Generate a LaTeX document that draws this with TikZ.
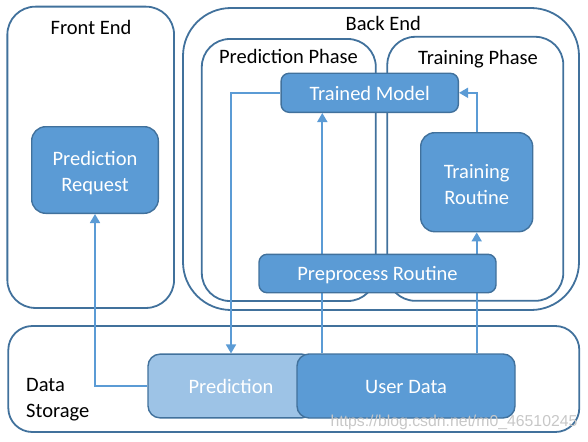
\documentclass[tikz,border=0pt]{standalone}
\usepackage{fontspec}
\setmainfont{Carlito}
\newfontfamily\markfont{Liberation Sans}
\usetikzlibrary{arrows.meta, positioning}
\definecolor{boxblue}{HTML}{5B9BD5}
\definecolor{edgeblue}{HTML}{41719C}
\definecolor{paleblue}{HTML}{9DC3E6}
\newcommand{\liftstrut}{\rule{0pt}{20.5pt}}
\tikzset{
    region/.style={
        rectangle, draw=edgeblue, line width=1.8pt,
        inner sep=0pt, rounded corners=28pt
    },
    block/.style={
        rectangle, draw=edgeblue, line width=1.4pt,
        fill=boxblue, text=white, align=center,
        rounded corners=14pt, inner sep=0pt,
        font=\fontsize{20.5}{25.8}\selectfont
    },
    oneline/.style={text height=18pt, text depth=3.3pt},
    title/.style={
        font=\fontsize{20.5}{25.8}\selectfont, text=black,
        inner sep=0pt
    },
    flow/.style={draw=boxblue, line width=1.7pt, -{Triangle[width=10pt,length=9pt]}}
}

\begin{document}
\begin{tikzpicture}[x=1pt, y=-1pt]
\useasboundingbox (0,0) rectangle (588,441);

% containers
\node[region, minimum width=166.7pt, minimum height=301.3pt] (front) at (90.7,157.3) {};
\node[region, rounded corners=48pt, minimum width=396pt, minimum height=302pt] (back) at (381,159) {};
\node[region, minimum width=174pt, minimum height=262pt] (predphase) at (288.8,170) {};
\node[region, minimum width=176pt, minimum height=264pt] (trainphase) at (475.3,168.8) {};
\node[region, rounded corners=24pt, minimum width=571pt, minimum height=106pt] (storage) at (293.8,379) {};

\node[title, oneline] (fronttitle) at (91,27.5) {Front End};
\node[title, oneline] (backtitle) at (383.3,23.5) {Back End};
\node[title, oneline] (predtitle) at (288.5,56.5) {Prediction Phase};
\node[title, oneline] (traintitle) at (478,57.5) {Training Phase};
\node[title, align=left, anchor=west] (storagetitle) at (26,400) {Data\\Storage};

% blocks
\node[block, minimum width=126.6pt, minimum height=86.6pt] (req) at (95,170) {\liftstrut Prediction\\Request};
\node[block, oneline, rounded corners=8pt, minimum width=177.3pt, minimum height=39pt] (model) at (369.7,92.8) {Trained Model};
\node[block, minimum width=112pt, minimum height=99pt] (routine) at (476.7,182.2) {\rule{0pt}{18.5pt}Training\\Routine};
\node[block, oneline, fill=paleblue, rounded corners=12pt, minimum width=166pt, minimum height=63.7pt] (pred) at (231,386) {Prediction};
\node[block, oneline, rounded corners=12pt, minimum width=218pt, minimum height=64pt] (user) at (406,386) {User Data};

% data flow
\draw[flow] (pred.west) -| (req.south);
\draw[flow] (model.west) -| (pred.north);
\draw[flow] ([xshift=26pt]user.north west) -- ([xshift=26pt]user.north west |- model.south);
\draw[flow] (routine.south |- user.north) -- (routine.south);
\draw[flow] (routine.north) |- (model.east);

% drawn last, over the wires
\node[block, oneline, rounded corners=8pt, minimum width=237pt, minimum height=38.4pt] (prep) at (377.5,273.5) {Preprocess Routine};

\node[text=black!22, font=\markfont\fontsize{15.8}{17}\selectfont, inner sep=0pt] (mark) at (454,422) {https://blog.csdn.net/m0\_46510245};

\end{tikzpicture}
\end{document}
